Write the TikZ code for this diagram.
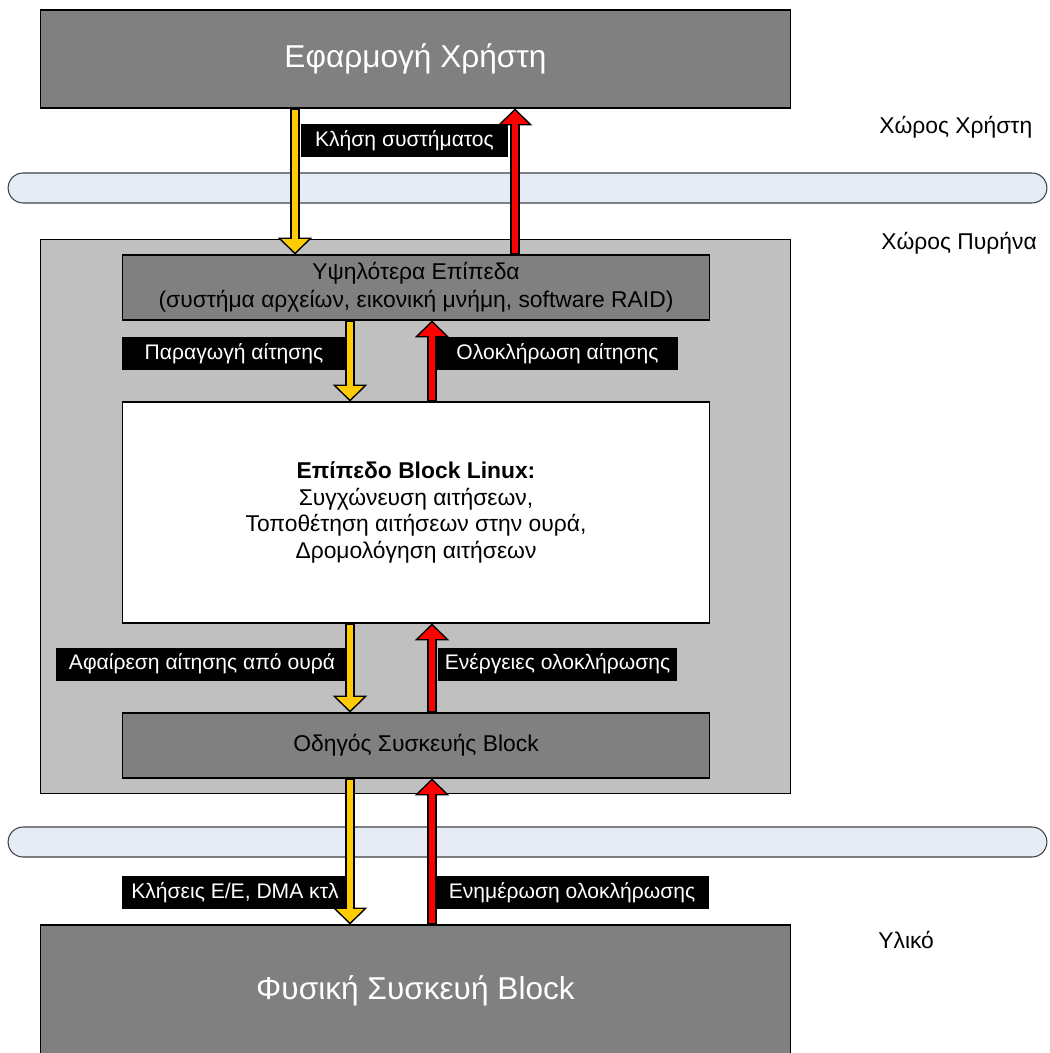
\documentclass[tikz,border=0pt]{standalone}
\usepackage{fontspec}
\setmainfont{Liberation Sans}
\usepackage{tikz}
\usetikzlibrary{arrows.meta}

\definecolor{appgray}{HTML}{808080}
\definecolor{kergray}{HTML}{C0C0C0}
\definecolor{busblue}{HTML}{E6ECF6}
\definecolor{reqyellow}{HTML}{FFCC00}
\definecolor{donered}{HTML}{FF0000}

\begin{document}
\begin{tikzpicture}[x=0.02cm,y=-0.02cm]
% Block layer style
\tikzset{
    layer/.style={draw=black, line width=0.6pt, minimum width=11.76cm, minimum height=1.3cm,
        align=center, inner sep=0pt, font=\fontsize{13}{16}\selectfont},
    outer/.style={draw=black, line width=0.6pt, fill=appgray, minimum width=15.02cm,
        text=white, font=\fontsize{18}{21}\selectfont},
    tag/.style={fill=black, text=white, minimum height=0.66cm, inner sep=0pt,
        font=\fontsize{12}{14}\selectfont},
    side/.style={anchor=west, inner sep=0pt, font=\fontsize{13}{15}\selectfont},
    bus/.style={draw=black!75, line width=0.6pt, fill=busblue, minimum width=20.78cm,
        minimum height=0.6cm, rounded corners=0.3cm},
    reqarrow/.style={draw=reqyellow, line width=3.97pt, shorten >=1.2pt, shorten <=0.85pt,
        -{Triangle[width=15.6pt,length=7.6pt,line width=0pt]},
        preaction={draw=black, line width=5.67pt, shorten >=0pt, shorten <=0pt,
        -{Triangle[width=19.85pt,length=9.64pt,line width=0pt]}}},
    donearrow/.style={draw=donered, line width=3.97pt, shorten >=1.2pt, shorten <=0.85pt,
        -{Triangle[width=15.6pt,length=7.6pt,line width=0pt]},
        preaction={draw=black, line width=5.67pt, shorten >=0pt, shorten <=0pt,
        -{Triangle[width=19.85pt,length=9.64pt,line width=0pt]}}}
}
\useasboundingbox (0,0) rectangle (1049,1053);
% Spaces
\node[outer, minimum height=1.96cm] (app) at (415.5,59) {Εφαρμογή Χρήστη};
\node[draw=black, line width=0.6pt, fill=kergray, minimum width=15.02cm,
    minimum height=11.1cm] (kernel) at (415.5,516.5) {};
\node[outer, minimum height=2.62cm] (dev) at (415.5,990.5) {Φυσική Συσκευή Block};
\node[bus] (bus1) at (527.5,188) {};
\node[bus] (bus2) at (527.5,842) {};
\node[side] (usrsp) at (879,127) {Χώρος Χρήστη};
\node[side] (kersp) at (881,243) {Χώρος Πυρήνα};
\node[side] (hwsp) at (878,940) {Υλικό};
% Kernel layers
\node[layer, fill=appgray] (upper) at (416,287.5)
    {Υψηλότερα Επίπεδα\\(συστήμα αρχείων, εικονική μνήμη, software RAID)};
\node[layer, fill=white, minimum height=4.42cm, font=\fontsize{13}{15.3}\selectfont] (blk) at (416,512.5)
    {\textbf{Επίπεδο Block Linux:}\\Συγχώνευση αιτήσεων,\\Τοποθέτηση αιτήσεων στην ουρά,\\Δρομολόγηση αιτήσεων};
\node[layer, fill=appgray] (drv) at (416,745.5) {Οδηγός Συσκευής Block};
% Tags
\node[tag, minimum width=4.14cm] (sys) at (404.5,140.5) {Κλήση συστήματος};
\node[tag, minimum width=4.48cm] (gen) at (234,353.5) {Παραγωγή αίτησης};
\node[tag, minimum width=4.82cm] (cmp) at (557.5,353.5) {Ολοκλήρωση αίτησης};
\node[tag, minimum width=5.84cm] (deq) at (202,664) {Αφαίρεση αίτησης από ουρά};
\node[tag, minimum width=4.78cm] (act) at (557.5,664) {Ενέργειες ολοκλήρωσης};
\node[tag, minimum width=4.52cm] (io) at (235,892.5) {Κλήσεις Ε/Ε, DMA κτλ};
\node[tag, minimum width=5.48cm] (upd) at (572,892.5) {Ενημέρωση ολοκλήρωσης};
% Arrows
\coordinate (c1) at (295,0);
\coordinate (c2) at (515,0);
\coordinate (c3) at (350,0);
\coordinate (c4) at (432,0);
\draw[reqarrow] (app.south -| c1) -- (upper.north -| c1);
\draw[donearrow] (upper.north -| c2) -- (app.south -| c2);
\draw[reqarrow] (upper.south -| c3) -- (blk.north -| c3);
\draw[donearrow] (blk.north -| c4) -- (upper.south -| c4);
\draw[reqarrow] (blk.south -| c3) -- (drv.north -| c3);
\draw[donearrow] (drv.north -| c4) -- (blk.south -| c4);
\draw[reqarrow] (drv.south -| c3) -- (dev.north -| c3);
\draw[donearrow] (dev.north -| c4) -- (drv.south -| c4);
\end{tikzpicture}
\end{document}
